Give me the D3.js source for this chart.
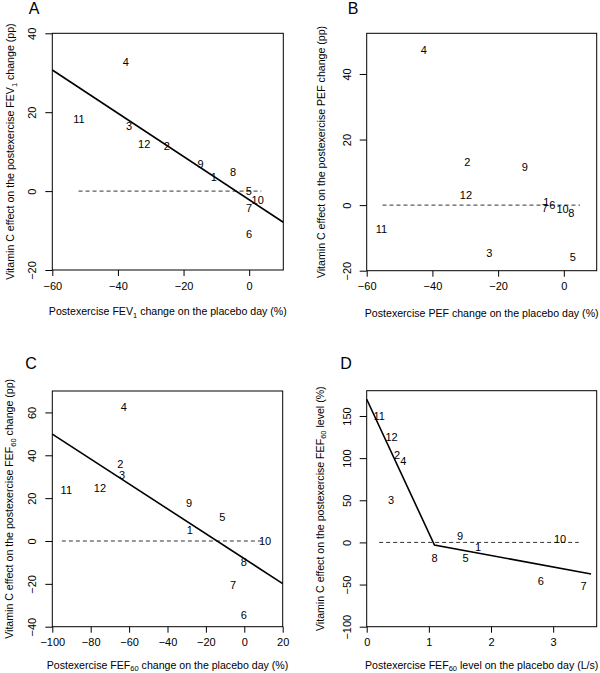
<!DOCTYPE html>
<html><head><meta charset="utf-8">
<script src="https://cdn.jsdelivr.net/npm/d3@7"></script>
<style>body{margin:0;background:#fff}svg{display:block;font-family:"Liberation Sans",Arial,Helvetica,sans-serif}</style>
</head><body>
<svg id="c" width="600" height="673"></svg>
<script>
// subject ids (labels drawn at each point)
const ids = [1,2,3,4,5,6,7,8,9,10,11,12];

// Panel A: FEV1
const fevPlacebo = [-10.8,-25.1,-36.6,-37.6,-0.1,0,0,-4.9,-14.8,2.6,-51.9,-32];
const fevEffect  = [3.7,11.5,16.4,32.7,0,-11,-4.4,4.8,6.9,-2.3,18.3,11.9];
const fevFitX = [-60, 10.4];
const fevFitY = [30.7, -7.9];

// Panel B: PEF
const pefPlacebo = [-5.3,-29.4,-22.7,-42.6,2.7,-3.5,-5.8,2.3,-11.9,-0.4,-55.5,-29.8];
const pefEffect  = [0.8,13.3,-14.7,47.2,-15.8,-0.1,-0.8,-2.4,11.7,-1.3,-7.4,3.2];

// Panel C: FEF60 change
const fefPlacebo = [-28.4,-64.6,-63.7,-62.8,-11.5,-0.3,-5.9,-0.3,-28.8,10.8,-92.7,-75.2];
const fefEffect  = [5.1,35.9,30.6,62.5,11.3,-34.7,-20.7,-9.8,17.7,0,23.8,24.8];
const fefFitX = [-100, 20];
const fefFitY = [49.9, -19.9];

// Panel D: FEF60 level
const fefLevel       = [1.79,0.49,0.39,0.59,1.59,2.80,3.49,1.09,1.50,3.11,0.20,0.40];
const fefLevelEffect = [-5.4,103.3,50.5,96.9,-18.9,-46.1,-51.5,-18.9,7.9,4,149.8,124.6];
const levelFitX = [0, 1.09, 3.61];
const levelFitY = [169.9, -3.1, -37.4];

// tick values
const ticksAx = [-60,-40,-20,0], ticksAy = [-20,0,20,40];
const ticksBx = [-60,-40,-20,0], ticksBy = [-20,0,20,40];
const ticksCx = [-100,-80,-60,-40,-20,0,20], ticksCy = [-40,-20,0,20,40,60];
const ticksDx = [0,1,2,3], ticksDy = [-100,-50,0,50,100,150];

const panels = [
  {letter:"A", lx:34, ly:14, box:[52.3,283.3,33.3,270], xd:[-60,10.4], yd:[-20,40],
   xs:fevPlacebo, ys:fevEffect, fx:fevFitX, fy:fevFitY, dash:[-52,3.7],
   tx:ticksAx, ty:ticksAy, yl:42, xlY:45,
   xlab:[["Postexercise FEV",0],["1",1],[" change on the placebo day (%)",0]],
   ylab:[["Vitamin C effect on the postexercise FEV",0],["1",1],[" change (pp)",0]]},
  {letter:"B", lx:353, ly:14, box:[366.7,596.7,33.3,270.7], xd:[-60,10], yd:[-20,52.4],
   xs:pefPlacebo, ys:pefEffect, fx:null, fy:null, dash:[-55.2,4.9],
   tx:ticksBx, ty:ticksBy, yl:46, xlY:46,
   xlab:[["Postexercise PEF change on the placebo day (%)",0]],
   ylab:[["Vitamin C effect on the postexercise PEF change (pp)",0]]},
  {letter:"C", lx:31, ly:369, box:[52.3,282.7,391,626.7], xd:[-100,20], yd:[-40,70],
   xs:fefPlacebo, ys:fefEffect, fx:fefFitX, fy:fefFitY, dash:[-95,10],
   tx:ticksCx, ty:ticksCy, yl:43, xlY:42,
   xlab:[["Postexercise FEF",0],["60",1],[" change on the placebo day (%)",0]],
   ylab:[["Vitamin C effect on the postexercise FEF",0],["60",1],[" change (pp)",0]]},
  {letter:"D", lx:346, ly:369, box:[366.7,596.7,390.7,626.7], xd:[0,3.7], yd:[-100,180],
   xs:fefLevel, ys:fefLevelEffect, fx:levelFitX, fy:levelFitY, dash:[0.2,3.41],
   tx:ticksDx, ty:ticksDy, yl:47, xlY:42,
   xlab:[["Postexercise FEF",0],["60",1],[" level on the placebo day (L/s)",0]],
   ylab:[["Vitamin C effect on the postexercise FEF",0],["60",1],[" level (%)",0]]}
];

const svg = d3.select("#c");

function addRich(textSel, parts){
  parts.forEach(([t,sub],i)=>{
    const ts = textSel.append("tspan").text(t);
    if(sub){ ts.attr("font-size",7.5).attr("dy",2.5); }
    else if(i>0){ ts.attr("dy",-2.5); }
  });
}

panels.forEach(p=>{
  const [L,R,T,B] = p.box;
  const x = d3.scaleLinear().domain(p.xd).range([L,R]);
  const y = d3.scaleLinear().domain(p.yd).range([B,T]);
  const g = svg.append("g");

  g.append("text").attr("x",p.lx).attr("y",p.ly).attr("text-anchor","middle")
    .attr("font-size",16).text(p.letter);

  // axes
  const ax = g.append("g").attr("transform",`translate(0,${B})`)
    .call(d3.axisBottom(x).tickValues(p.tx).tickSize(6).tickPadding(6).tickFormat(d3.format("d")));
  const ay = g.append("g").attr("transform",`translate(${L},0)`)
    .call(d3.axisLeft(y).tickValues(p.ty).tickSize(7).tickPadding(3).tickFormat(d3.format("d")));
  [ax,ay].forEach(a=>{
    a.select(".domain").remove();
    a.selectAll("line").attr("stroke","#000");
    a.selectAll("text").attr("font-size",11).attr("fill","#000").attr("font-family",null);
  });
  ay.selectAll(".tick text").attr("text-anchor","middle").attr("x",0).attr("dy",null)
    .attr("transform","translate(-19,0) rotate(-90)").attr("y",0).attr("dominant-baseline","middle");

  // box
  g.append("rect").attr("x",L).attr("y",T).attr("width",R-L).attr("height",B-T)
    .attr("fill","none").attr("stroke","#000").attr("stroke-width",1);

  // dashed zero line
  g.append("line").attr("x1",x(p.dash[0])).attr("x2",x(p.dash[1]))
    .attr("y1",y(0)).attr("y2",y(0)).attr("stroke","#333").attr("stroke-width",1)
    .attr("stroke-dasharray","4,3");

  // fit line
  if(p.fx){
    const pts = p.fx.map((v,i)=>[v,p.fy[i]]);
    g.append("path").attr("d",d3.line().x(d=>x(d[0])).y(d=>y(d[1]))(pts))
      .attr("fill","none").attr("stroke","#000").attr("stroke-width",1.6);
  }

  // point labels
  g.selectAll("text.pt").data(ids.map((id,i)=>({id,xv:p.xs[i],yv:p.ys[i]}))).enter()
    .append("text").attr("class","pt").attr("x",d=>x(d.xv)).attr("y",d=>y(d.yv))
    .attr("text-anchor","middle").attr("dominant-baseline","central")
    .attr("font-size",11).attr("fill","#000").text(d=>d.id);

  // axis titles
  const xt = g.append("text").attr("x",(L+R)/2).attr("y",B+p.xlY).attr("text-anchor","middle")
    .attr("font-size",10.6);
  addRich(xt,p.xlab);
  const yt = g.append("text").attr("transform",`translate(${L-p.yl+4},${(T+B)/2}) rotate(-90)`)
    .attr("text-anchor","middle").attr("font-size",10.6);
  addRich(yt,p.ylab);
});
</script>
</body></html>
